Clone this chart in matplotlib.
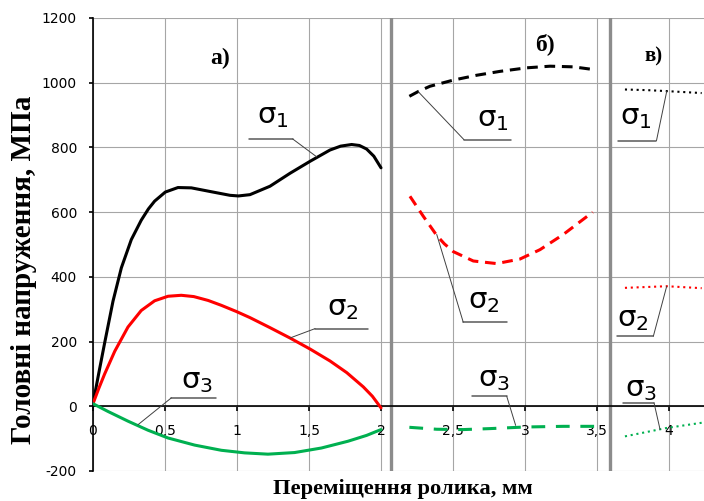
import matplotlib
matplotlib.use("Agg")
import matplotlib.pyplot as plt

plt.rcParams['font.family'] = ['DejaVu Sans']
plt.rcParams['mathtext.default'] = 'regular'
plt.rcParams['lines.solid_joinstyle'] = 'round'
plt.rcParams['lines.solid_capstyle'] = 'round'

# а) solid curves, 0..2 mm
s1_a_x = [0, 0.04, 0.081, 0.139, 0.197, 0.266, 0.335, 0.385, 0.428, 0.502, 0.59, 0.683,
          0.822, 0.951, 1.01, 1.09, 1.229, 1.368, 1.507, 1.646, 1.72, 1.796, 1.85, 1.90,
          1.95, 2.0]
s1_a_y = [8, 102, 196, 325, 428, 515, 575, 610, 634, 662, 676, 675,
          663, 652, 650, 654, 680, 720, 757, 792, 804, 809, 806, 795,
          773, 737]
s2_a_x = [0, 0.04, 0.081, 0.151, 0.243, 0.335, 0.428, 0.521, 0.613, 0.70, 0.80, 0.891,
          0.995, 1.09, 1.229, 1.368, 1.507, 1.646, 1.762, 1.877, 1.94, 2.0]
s2_a_y = [8, 55, 100, 170, 245, 296, 326, 340, 343, 339, 327, 312,
          293, 274, 243, 211, 177, 140, 104, 60, 31, -5]
s3_a_x = [0, 0.104, 0.243, 0.382, 0.521, 0.706, 0.891, 1.053, 1.215, 1.40, 1.586, 1.771,
          1.90, 2.0]
s3_a_y = [8, -16, -46, -74, -98, -120, -136, -144, -148, -143, -129, -108,
          -90, -72]

# б) dashed curves
s1_b_x = [2.197, 2.26, 2.34, 2.502, 2.664, 2.826, 3.012, 3.174, 3.336, 3.486]
s1_b_y = [958, 973, 989, 1008, 1023, 1035, 1046, 1051, 1049, 1040]
s2_b_x = [2.201, 2.294, 2.387, 2.44, 2.502, 2.641, 2.803, 2.965, 3.104, 3.266, 3.47]
s2_b_y = [649, 587, 528, 502, 478, 449, 441, 455, 484, 531, 600]
s3_b_x = [2.197, 2.387, 2.572, 2.757, 3.005, 3.266, 3.5]
s3_b_y = [-65, -71, -72, -69, -64, -62, -62]

# в) dotted curves
s1_c_x = [3.694, 3.85, 3.984, 4.227]
s1_c_y = [979, 977, 974, 968]
s2_c_x = [3.694, 3.984, 4.227]
s2_c_y = [366, 371, 365]
s3_c_x = [3.694, 3.984, 4.227]
s3_c_y = [-93, -67, -51]

x_ticks = [0, 0.5, 1, 1.5, 2, 2.5, 3, 3.5, 4]
x_tick_labels = ['0', '0,5', '1', '1,5', '2', '2,5', '3', '3,5', '4']
y_ticks = [-200, 0, 200, 400, 600, 800, 1000, 1200]
y_tick_labels = ['-200', '0', '200', '400', '600', '800', '1000', '1200']

black = 'black'
red = '#ff0000'
green = '#00b050'

fig = plt.figure(figsize=(7.04, 5.01), dpi=100)
ax = fig.add_axes([0.1321, 0.0599, 0.8679, 0.9042])
ax.set_xlim(0, 4.243)
ax.set_ylim(-200, 1200)

ax.plot(s1_a_x, s1_a_y, color=black, lw=2.2, zorder=4)
ax.plot(s2_a_x, s2_a_y, color=red, lw=2.2, zorder=4)
ax.plot(s3_a_x, s3_a_y, color=green, lw=2.2, zorder=4)

ax.plot(s1_b_x, s1_b_y, color=black, lw=2.2, dashes=(3.5, 2.2), zorder=4)
ax.plot(s2_b_x, s2_b_y, color=red, lw=2.2, dashes=(3.5, 2.2), zorder=4)
ax.plot(s3_b_x, s3_b_y, color=green, lw=2.2, dashes=(4.5, 3.5), zorder=4)

ax.plot(s1_c_x, s1_c_y, color=black, lw=1.5, dashes=(1, 1.8), zorder=4)
ax.plot(s2_c_x, s2_c_y, color=red, lw=1.5, dashes=(1, 1.8), zorder=4)
ax.plot(s3_c_x, s3_c_y, color=green, lw=1.5, dashes=(1, 1.8), zorder=4)

# section separators
for xs in (2.069, 3.59):
    ax.axvline(xs, color='#8c8c8c', lw=2.4, zorder=2)

ax.set_xticks(x_ticks)
ax.set_xticklabels(x_tick_labels)
ax.set_yticks(y_ticks)
ax.set_yticklabels(y_tick_labels)
ax.grid(True, color='#a6a6a6', lw=0.8, zorder=1)
for gl, xt in zip(ax.get_xgridlines(), x_ticks):
    if 2 <= xt <= 3.5:
        gl.set_color('#c0c0c0')
ax.set_axisbelow(True)

for s in ('top', 'right'):
    ax.spines[s].set_visible(False)
ax.spines['bottom'].set_position(('data', 0))
ax.spines['bottom'].set_linewidth(1.2)
ax.spines['bottom'].set_zorder(3)
ax.spines['left'].set_linewidth(1.2)
ax.tick_params(axis='y', direction='out', length=3.2, width=1.2, pad=8.4, labelsize=10)
ax.tick_params(axis='x', direction='out', length=3.5, width=1.2, pad=9, labelsize=10)

# sigma labels with underline and leader
labels = [
    ('$σ_1$', 1.139, 874, (1.085, 1.387, 826), (1.387, 826, 1.553, 771)),
    ('$σ_2$', 1.623, 283, (1.542, 1.912, 240), (1.542, 240, 1.368, 211)),
    ('$σ_3$', 0.611, 57, (0.544, 0.856, 26), (0.544, 26, 0.3125, -57)),
    ('$σ_1$', 2.669, 865, (2.576, 2.900, 824), (2.576, 824, 2.259, 972)),
    ('$σ_2$', 2.606, 304, (2.571, 2.873, 260), (2.571, 260, 2.387, 531)),
    ('$σ_3$', 2.676, 62, (2.630, 2.873, 31), (2.873, 31, 2.935, -59)),
    ('$σ_1$', 3.660, 871, (3.648, 3.913, 821), (3.913, 821, 3.984, 973)),
    ('$σ_2$', 3.637, 247, (3.637, 3.891, 216), (3.891, 216, 3.984, 371)),
    ('$σ_3$', 3.694, 31, (3.678, 3.896, 10.5), (3.896, 10.5, 3.938, -72)),
]
for txt, tx, ty, (u0, u1, uy), (l0, ly0, l1, ly1) in labels:
    ax.text(tx, ty, txt, fontsize=21, ha='left', va='baseline', zorder=5)
    ax.plot([u0, u1], [uy, uy], color='#595959', lw=1.1, zorder=5)
    ax.plot([l0, l1], [ly0, ly1], color='#404040', lw=0.7, zorder=5)

ax.text(0.882, 1074, 'а)', fontsize=17, fontweight='bold', family='Liberation Serif',
        ha='center', va='center')
ax.text(3.139, 1118, 'б)', fontsize=17, fontweight='bold', family='Liberation Serif',
        ha='center', va='center')
ax.text(3.892, 1081, 'в)', fontsize=15, fontweight='bold', family='Liberation Serif',
        ha='center', va='center')

fig.text(0.5724, 0.0244, 'Переміщення ролика, мм', fontsize=16.2, fontweight='bold',
         family='Liberation Serif', ha='center', va='center')
fig.text(0.034, 0.461, 'Головні напруження, МПа', fontsize=21, fontweight='bold',
         family='Liberation Serif', ha='center', va='center', rotation=90)

fig.savefig('out.png', dpi=100)
